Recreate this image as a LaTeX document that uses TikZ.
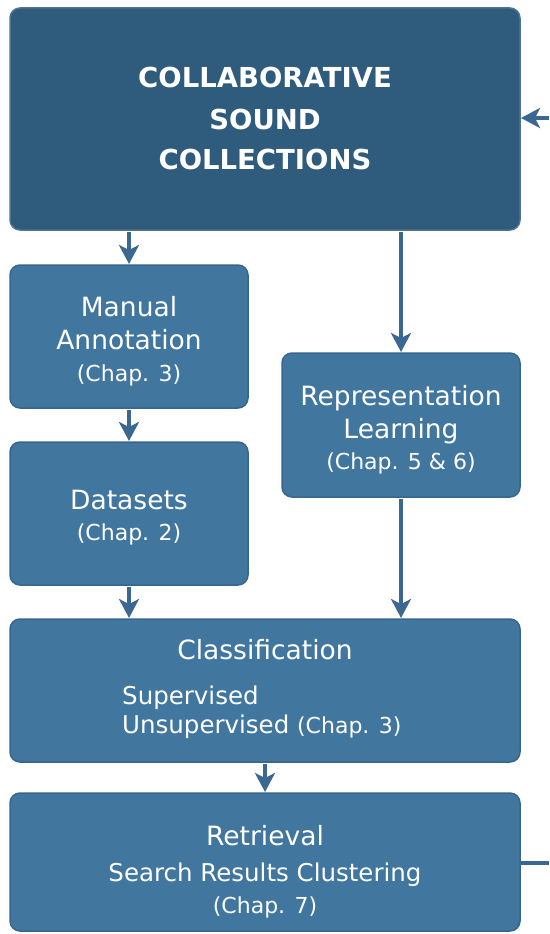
\documentclass[tikz,border=0pt]{standalone}
\usepackage{fontspec}
\setmainfont{DejaVu Sans}
\usetikzlibrary{arrows.meta,calc}
\definecolor{topfill}{HTML}{2F5C7D}
\definecolor{boxfill}{HTML}{41769F}
\definecolor{boxline}{HTML}{37668D}
\definecolor{arrcol}{HTML}{3A6890}
\tikzset{
  box/.style={draw=boxline, line width=1.5pt, fill=boxfill, rounded corners=10pt, inner sep=0pt, outer sep=0pt},
  topbox/.style={box, fill=topfill, draw=topfill!85!white},
  arr/.style={draw=arrcol, line width=4pt, -{Stealth[length=19pt,width=20pt,inset=5pt]}, shorten <=2pt, shorten >=1pt},
  lnk/.style={draw=arrcol, line width=4pt},
  big/.style={text=white, anchor=base, inner sep=0pt, font=\fontsize{26.5}{30}\selectfont},
  mid/.style={text=white, anchor=base, inner sep=0pt, font=\fontsize{24.5}{28}\selectfont},
  small/.style={text=white, anchor=base, inner sep=0pt, font=\fontsize{22}{26}\selectfont},
  ttl/.style={text=white, anchor=base, inner sep=0pt, font=\fontsize{27.5}{32}\selectfont\bfseries},
}
\begin{document}
\begin{tikzpicture}[x=1pt,y=-1pt]
\useasboundingbox (0,0) rectangle (549,934);
% boxes
\node[topbox, minimum width=510pt, minimum height=222pt] (top) at (265,119) {};
\node[box, minimum width=238pt, minimum height=143pt] (man) at (129,336.5) {};
\node[box, minimum width=238pt, minimum height=143pt] (ds) at (129,513.5) {};
\node[box, minimum width=238pt, minimum height=144pt] (rep) at (401,425) {};
\node[box, minimum width=510pt, minimum height=143pt] (cls) at (265,690.5) {};
\node[box, minimum width=510pt, minimum height=138pt] (ret) at (265,862) {};
% texts
\node[ttl] (t1) at (265,88) {COLLABORATIVE};
\node[ttl] (t2) at (265,129) {SOUND};
\node[ttl] (t3) at (265,169) {COLLECTIONS};
\node[big] (m1) at (129,316) {Manual};
\node[big] (m2) at (129,349) {Annotation};
\node[small] (m3) at (129,381) {(Chap. 3)};
\node[big] (d1) at (129,509) {Datasets};
\node[small] (d2) at (129,540) {(Chap. 2)};
\node[big] (r1) at (401,405) {Representation};
\node[big] (r2) at (401,438) {Learning};
\node[small] (r3) at (401,469) {(Chap. 5 \& 6)};
\node[big] (c1) at (265,659) {Classification};
\node[mid, anchor=base west] (c2) at (122,704) {Supervised};
\node[mid, anchor=base west] (c3) at (122,733) {Unsupervised {\fontsize{22}{26}\selectfont(Chap. 3)}};
\node[big] (e1) at (265,845) {Retrieval};
\node[mid] (e2) at (265,881) {Search Results Clustering};
\node[small] (e3) at (265,913) {(Chap. 7)};
% connectors
\draw[arr] (top.south -| man.north) -- (man.north);
\draw[arr] (man.south) -- (ds.north);
\draw[arr] (ds.south) -- (ds.south |- cls.north);
\draw[arr] (top.south -| rep.north) -- (rep.north);
\draw[arr] (rep.south) -- (rep.south |- cls.north);
\draw[arr] (cls.south) -- (ret.north);
\coordinate (fbout) at (549,863);
\coordinate (fbin) at (549,118);
\draw[lnk, shorten <=1pt] (ret.east |- fbout) -- (fbout);
\draw[arr, shorten <=0pt] (fbin) -- (top.east |- fbin);
\end{tikzpicture}
\end{document}
